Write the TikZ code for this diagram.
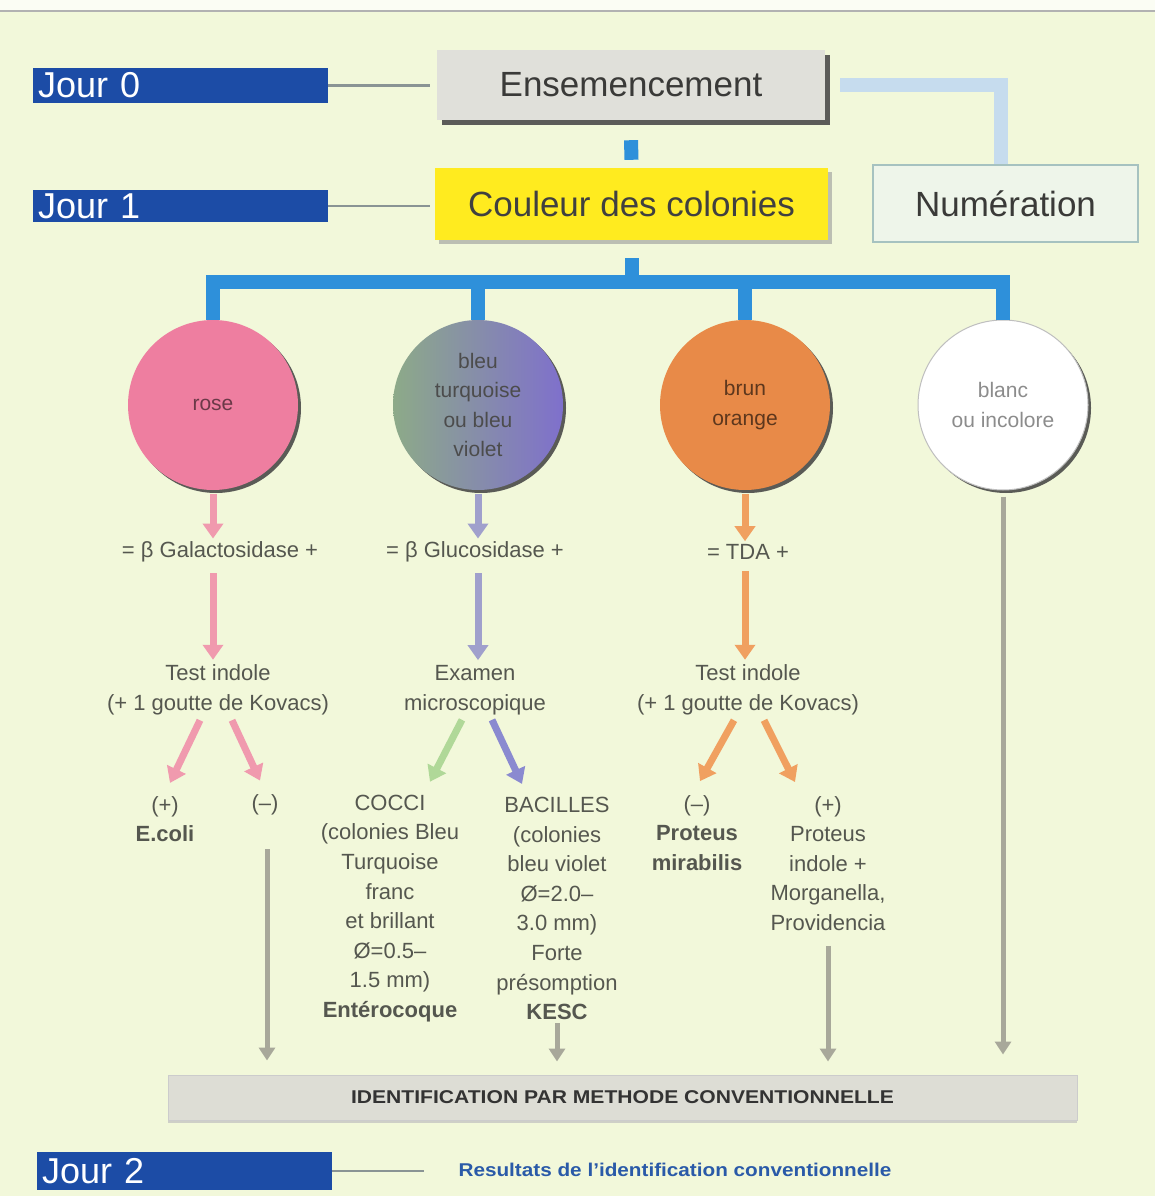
\documentclass[tikz,border=0pt]{standalone}
\usepackage{fontspec}
\setmainfont{Liberation Sans}
\usetikzlibrary{arrows.meta,shadows}
\definecolor{bg}{HTML}{F2F8DA}
\definecolor{jourblue}{HTML}{1C4CA6}
\definecolor{treeblue}{HTML}{2E90DA}
\definecolor{lightblue}{HTML}{C6DCEE}
\definecolor{ensgray}{HTML}{E0E0DA}
\definecolor{yel}{HTML}{FFEB1F}
\definecolor{numfill}{HTML}{EEF5EA}
\definecolor{numline}{HTML}{A6C2C0}
\definecolor{rosec}{HTML}{EE7EA0}
\definecolor{rosearrow}{HTML}{F09AAE}
\definecolor{greenc}{HTML}{8DAA88}
\definecolor{violc}{HTML}{7F70CC}
\definecolor{violarrow}{HTML}{A0A0CC}
\definecolor{violarrow2}{HTML}{8A8AD0}
\definecolor{greenarrow}{HTML}{B0D898}
\definecolor{brunc}{HTML}{E88A48}
\definecolor{brunarrow}{HTML}{F0A060}
\definecolor{grayarrow}{HTML}{A8A89A}
\definecolor{txt}{HTML}{55574F}
\definecolor{dtxt}{HTML}{3A3A38}
\definecolor{identfill}{HTML}{DDDDD5}
\definecolor{restxt}{HTML}{2A5AA8}
\definecolor{linegray}{HTML}{8A9494}
\newcommand\setfs[2]{\fontsize{#1}{#2}\selectfont}
\begin{document}
\begin{tikzpicture}[x=1pt,y=-1pt,
  jour/.style={fill=jourblue, text=white, text width=285pt, align=left,
    inner xsep=5pt, inner ysep=0pt, minimum width=295pt, font=\setfs{36}{40}},
  bigbox/.style={inner sep=0pt, font=\setfs{35}{40}, text=dtxt},
  dayline/.style={draw=linegray, line width=2.5pt},
  treeline/.style={draw=treeblue, line width=14pt},
  colony/.style={circle, minimum size=170pt, inner sep=0pt, align=center,
    font=\setfs{21}{29.5},
    drop shadow={shadow xshift=3pt, shadow yshift=-3pt, fill=black!75, opacity=0.85}},
  lbl/.style={align=center, inner sep=1pt, text=txt, font=\setfs{22}{29.6}},
  arr/.style={line width=7pt, -{Triangle[width=20pt,length=15pt]}},
  garrow/.style={draw=grayarrow, line width=5pt, -{Triangle[width=16pt,length=13pt]}}
]
\useasboundingbox (0,0) rectangle (1155,1196);
\fill[bg] (0,0) rectangle (1155,1196);
\fill[white!70!bg] (0,0) rectangle (1155,10);
\draw[line width=2pt, gray!60] (0,11) -- (1155,11);

% day labels
\node[jour, minimum height=35pt] (j0) at (180.5,85.5) {Jour 0};
\node[jour, minimum height=32pt] (j1) at (180.5,206) {Jour 1};
\node[jour, minimum height=38pt] (j2) at (184.5,1171) {Jour 2};

% top boxes
\node[bigbox, fill=ensgray, minimum width=388pt, minimum height=70pt,
  drop shadow={shadow xshift=5pt, shadow yshift=-5pt, fill=black!70, opacity=0.9}]
  (ens) at (631,85) {Ensemencement};
\node[bigbox, fill=yel, minimum width=393pt, minimum height=72pt, text=black!75,
  drop shadow={shadow xshift=4pt, shadow yshift=-4pt, fill=black!40, opacity=0.6}]
  (coul) at (631.5,204) {Couleur des colonies};
\node[bigbox, fill=numfill, draw=numline, line width=2pt, minimum width=265pt,
  minimum height=77pt] (num) at (1005.5,203.5) {Numération};

\draw[dayline, shorten >=7pt] (j0.east) -- (j0.east -| ens.west);
\draw[dayline, shorten >=5pt] (j1.east) -- (j1.east -| coul.west);

% connectors top
\draw[draw=lightblue, line width=14pt] ([xshift=15pt]ens.east) -| ([xshift=-5pt]num.north);
\draw[treeline] ([yshift=-20pt]ens.south) -- ([yshift=8pt]coul.north);

% identification
\node[fill=identfill, draw=black!20, line width=1pt, minimum width=909pt, minimum height=45pt,
  inner sep=0pt, font=\bfseries\setfs{18.5}{22}\addfontfeature{FakeStretch=1.14}, text=black!80,
  drop shadow={shadow xshift=0pt, shadow yshift=-3pt, fill=black!25, opacity=0.7}]
  (ident) at (622.5,1097.5) {IDENTIFICATION PAR METHODE CONVENTIONNELLE};

% colonies
\node[colony, fill=rosec, text=black!55!rosec] (rose) at (213,405) {rose};
\node[colony, left color=greenc, right color=violc, text=black!70] (bleu) at (478,405)
  {bleu\\turquoise\\ou bleu\\violet};
\node[colony, fill=brunc, text=black!60!brunc] (brun) at (745,405) {brun\\orange};
\node[colony, fill=white, draw=gray!50, line width=1pt, text=gray!90] (blanc) at (1003,405)
  {blanc\\ou incolore};

\coordinate (hub) at (631,282);
\draw[treeline] ([yshift=-18pt]coul.south) -- (coul.south |- hub);
\draw[treeline, line join=miter] (rose.north) -- (rose.north |- hub) -| (blanc.north);
\draw[treeline] (bleu.north) -- (bleu.north |- hub);
\draw[treeline] (brun.north) -- (brun.north |- hub);

% rose branch
\node[lbl] (gal) at (220,552) {= β Galactosidase +};
\node[lbl] (ind1) at (218,690) {Test indole\\(+ 1 goutte de Kovacs)};
\node[lbl] (pos1) at (165,819) {(+)\\\textbf{E.coli}};
\node[lbl] (neg1) at (265,805) {(–)};
\draw[arr, draw=rosearrow, shorten <=4pt, shorten >=2pt] (rose.south) -- (rose.south |- gal.north);
\draw[arr, draw=rosearrow, shorten <=10pt, shorten >=4pt] (gal.south -| rose.south) -- (rose.south |- ind1.north);
\draw[arr, draw=rosearrow] ([xshift=-18pt,yshift=-4pt]ind1.south) -- ([xshift=5pt,yshift=12pt]pos1.north);
\draw[arr, draw=rosearrow] ([xshift=14pt,yshift=-4pt]ind1.south) -- ([xshift=-5pt,yshift=13pt]neg1.north);
\coordinate (neg1top) at ([xshift=2pt,yshift=-33pt]neg1.south);
\draw[garrow, shorten >=14pt] (neg1top) -- (neg1top |- ident.north);

% bleu branch
\node[lbl] (glu) at (475,552) {= β Glucosidase +};
\node[lbl] (exam) at (475,690) {Examen\\microscopique};
\node[lbl] (cocci) at (390,908.5) {COCCI\\(colonies Bleu\\Turquoise\\franc\\et brillant\\Ø=0.5–\\1.5 mm)\\\textbf{Entérocoque}};
\node[lbl] (bac) at (557,908.5) {BACILLES\\(colonies\\bleu violet\\Ø=2.0–\\3.0 mm)\\Forte\\présomption\\\textbf{KESC}};
\draw[arr, draw=violarrow, shorten <=4pt, shorten >=2pt] (bleu.south) -- (bleu.south |- glu.north);
\draw[arr, draw=violarrow, shorten <=10pt, shorten >=4pt] (glu.south -| bleu.south) -- (bleu.south |- exam.north);
\draw[arr, draw=greenarrow] ([xshift=-13pt,yshift=-4pt]exam.south) -- ([xshift=40pt,yshift=12pt]cocci.north);
\draw[arr, draw=violarrow2] ([xshift=17pt,yshift=-4pt]exam.south) -- ([xshift=-35pt,yshift=12pt]bac.north);
\draw[garrow, shorten <=2pt, shorten >=13pt] (bac.south) -- (bac.south |- ident.north);

% brun branch
\node[lbl] (tda) at (748,552) {= TDA +};
\node[lbl] (ind3) at (748,690) {Test indole\\(+ 1 goutte de Kovacs)};
\node[lbl] (neg3) at (697,833) {(–)\\\textbf{Proteus}\\\textbf{mirabilis}};
\node[lbl] (pos3) at (828,863.5) {(+)\\Proteus\\indole +\\Morganella,\\Providencia};
\draw[arr, draw=brunarrow, shorten <=4pt, shorten >=2pt] (brun.south) -- (brun.south |- tda.north);
\draw[arr, draw=brunarrow, shorten <=10pt, shorten >=4pt] (tda.south -| brun.south) -- (brun.south |- ind3.north);
\draw[arr, draw=brunarrow] ([xshift=-14pt,yshift=-4pt]ind3.south) -- ([xshift=3pt,yshift=13pt]neg3.north);
\draw[arr, draw=brunarrow] ([xshift=16pt,yshift=-4pt]ind3.south) -- ([xshift=-33pt,yshift=13pt]pos3.north);
\draw[garrow, shorten <=14pt, shorten >=13pt] (pos3.south) -- (pos3.south |- ident.north);

% blanc branch
\draw[garrow, shorten <=6pt, shorten >=20pt] (blanc.south) -- (blanc.south |- ident.north);

\node[inner sep=0pt, font=\bfseries\setfs{18.5}{22}\addfontfeature{FakeStretch=1.12}, text=restxt] (res) at (675,1170)
  {Resultats de l'identification conventionnelle};
\draw[dayline, shorten >=34pt] (j2.east) -- (j2.east -| res.west);
\end{tikzpicture}
\end{document}
